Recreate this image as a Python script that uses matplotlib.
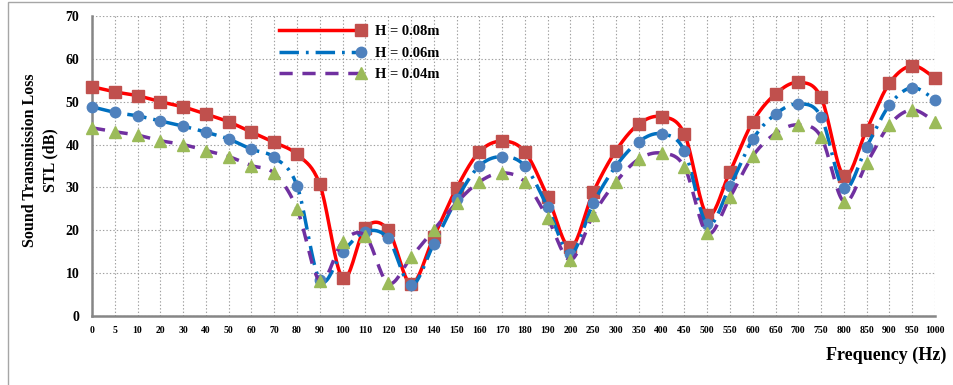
import numpy as np
import matplotlib
matplotlib.use('Agg')
import matplotlib.pyplot as plt
from matplotlib.legend_handler import HandlerLine2D
from matplotlib.patches import Rectangle

plt.rcParams['font.family'] = ['Liberation Serif', 'DejaVu Serif']
plt.rcParams['lines.scale_dashes'] = False

# частоты (категориальная ось)
freq = ['0', '5', '10', '20', '30', '40', '50', '60', '70', '80', '90', '100', '110', '120',
        '130', '140', '150', '160', '170', '180', '190', '200', '250', '300', '350', '400',
        '450', '500', '550', '600', '650', '700', '750', '800', '850', '900', '950', '1000']

stl_008 = [53.5, 52.3, 51.4, 50.0, 48.8, 47.1, 45.3, 42.9, 40.5, 37.7, 30.7, 8.9, 20.6, 20.1,
           7.5, 18.4, 29.8, 38.3, 40.8, 38.3, 27.8, 16.0, 28.9, 38.6, 44.8, 46.5,
           42.5, 23.6, 33.7, 45.3, 51.8, 54.5, 51.0, 32.7, 43.5, 54.3, 58.4, 55.5]

stl_006 = [48.8, 47.5, 46.7, 45.5, 44.3, 42.9, 41.3, 38.9, 37.0, 30.4, 8.4, 15.0, 19.7, 18.1,
           7.2, 16.8, 27.2, 35.0, 37.2, 35.0, 25.4, 14.5, 26.3, 35.0, 40.7, 42.5,
           38.6, 21.4, 30.3, 41.2, 47.1, 49.5, 46.5, 29.8, 39.5, 49.2, 53.3, 50.4]

stl_004 = [43.9, 43.0, 42.2, 40.9, 40.0, 38.6, 37.2, 35.1, 33.3, 25.0, 8.2, 17.3, 18.7, 7.6,
           13.7, 20.1, 26.4, 31.3, 33.4, 31.3, 22.8, 13.1, 23.6, 31.3, 36.6, 38.0,
           34.8, 19.3, 27.7, 37.3, 42.6, 44.6, 41.8, 26.7, 35.6, 44.6, 48.1, 45.3]


# сглаживание как в Excel (Catmull-Rom через кривые Безье)
def smooth(y, n=20):
    y = np.asarray(y, dtype=float)
    x = np.arange(len(y), dtype=float)
    xs, ys = [], []
    t = np.linspace(0, 1, n, endpoint=False)
    for i in range(len(y) - 1):
        i0, i3 = max(i - 1, 0), min(i + 2, len(y) - 1)
        p0 = np.array([x[i], y[i]])
        p3 = np.array([x[i + 1], y[i + 1]])
        p1 = p0 + (np.array([x[i + 1], y[i + 1]]) - np.array([x[i0], y[i0]])) / 6
        p2 = p3 - (np.array([x[i3], y[i3]]) - np.array([x[i], y[i]])) / 6
        b = ((1 - t) ** 3)[:, None] * p0 + (3 * (1 - t) ** 2 * t)[:, None] * p1 + \
            (3 * (1 - t) * t ** 2)[:, None] * p2 + (t ** 3)[:, None] * p3
        xs.extend(b[:, 0])
        ys.extend(b[:, 1])
    xs.append(x[-1])
    ys.append(y[-1])
    return np.array(xs), np.array(ys)


# маркер в конце линии в легенде (как в Excel)
class EndMarker(HandlerLine2D):
    def create_artists(self, *args, **kwargs):
        arts = super().create_artists(*args, **kwargs)
        for a in arts:
            if len(a.get_xdata()) == 3:
                a.set_markevery([2])
        return arts


fig = plt.figure(figsize=(9.54, 3.85), dpi=100)
ax = fig.add_axes([92 / 954, 69 / 385, 843 / 954, 300 / 385])

series = [
    (stl_008, 'H = 0.08m', '#FF0000', 's', '#C0504D', (None, None)),
    (stl_006, 'H = 0.06m', '#0070C0', 'o', '#4F81BD', (0, (14, 5, 2, 5))),
    (stl_004, 'H = 0.04m', '#7030A0', '^', '#9BBB59', (0, (9.5, 7))),
]
idx = np.arange(len(freq))
handles = []
for i, (y, lab, lc, mk, mc, ls) in enumerate(series):
    sx, sy = smooth(y)
    line, = ax.plot(sx, sy, color=lc, lw=2.5, linestyle='-' if ls[0] is None else ls,
                    zorder=3 + 2 * i, clip_on=False)
    ax.plot(idx, y, linestyle='none', marker=mk, ms=8.5 if mk != 'o' else 7.5,
            mfc=mc, mec=mc, zorder=4 + 2 * i, clip_on=False)
    h, = ax.plot([], [], color=lc, lw=2.5, linestyle='-' if ls[0] is None else ls,
                 marker=mk, ms=8.5 if mk != 'o' else 7.5, mfc=mc, mec=mc)
    handles.append(h)

ax.set_xlim(0, len(freq) - 1)
ax.set_ylim(0, 70)
ax.set_yticks(range(0, 71, 10))
ax.set_xticks(idx)
ax.set_xticklabels(freq, fontsize=7, fontweight='bold')
for lb in ax.get_yticklabels():
    lb.set_fontsize(10)
    lb.set_fontweight('bold')
ax.tick_params(length=0, pad=7)
ax.tick_params(axis='y', pad=9)
ax.grid(True, color='#a0a0a0', linestyle=(0, (1, 1.5)), lw=0.8)
ax.set_axisbelow(True)
for s in ['top', 'right']:
    ax.spines[s].set_visible(False)
for s in ['left', 'bottom']:
    ax.spines[s].set_color('#868686')
    ax.spines[s].set_linewidth(1.8)

ax.legend(handles, [s[1] for s in series], handler_map={h: EndMarker(numpoints=1) for h in handles},
          loc='upper left', bbox_to_anchor=(0.2064, 1.013), frameon=False, handlelength=5.6,
          handletextpad=1.0, labelspacing=0.55, prop={'weight': 'bold', 'size': 10.5})

fig.text(30 / 954, 225 / 385, 'Sound Transmission Loss', rotation=90, ha='center', va='center',
         fontsize=11.5, fontweight='bold')
fig.text(50 / 954, 225 / 385, 'STL (dB)', rotation=90, ha='center', va='center',
         fontsize=11.5, fontweight='bold')
fig.text(826 / 954, 30 / 385, 'Frequency (Hz)', ha='left', va='center',
         fontsize=13, fontweight='bold')

fig.patches.append(Rectangle((8 / 954, -0.05), 1.0, 1.046, transform=fig.transFigure,
                             fill=False, edgecolor='#a6a6a6', lw=1.0))

fig.savefig('out.png', dpi=100)
